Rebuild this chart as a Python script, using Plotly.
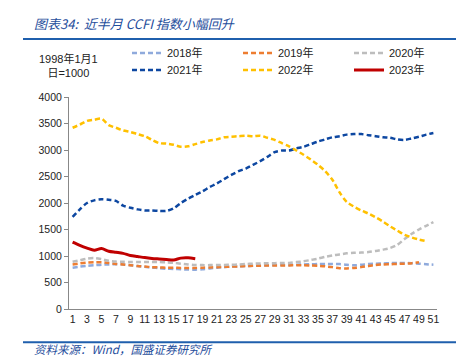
import plotly.graph_objects as go

weeks = list(range(1, 52))
tick_labels = [str(w) for w in range(1, 52, 2)]

y2018 = [780, 800, 815, 825, 835, 840, 845, 840, 825, 810, 795, 785, 770, 760, 755, 750, 745, 742,
         750, 765, 780, 790, 800, 805, 810, 815, 820, 825, 828, 830, 832, 835, 840, 845, 848, 850,
         850, 848, 835, 825, 835, 850, 855, 860, 865, 868, 868, 865, 855, 845, 836]
y2019 = [840, 860, 875, 880, 880, 870, 850, 840, 825, 810, 800, 790, 785, 780, 778, 775, 775, 775,
         780, 785, 790, 795, 800, 805, 810, 815, 818, 820, 822, 823, 823, 825, 825, 820, 815, 805,
         790, 770, 765, 775, 790, 810, 830, 840, 845, 850, 855, 865, 880]
y2020 = [890, 920, 950, 960, 940, 910, 895, 890, 888, 887, 887, 887, 885, 880, 870, 855, 840, 830,
         828, 828, 830, 832, 835, 840, 848, 855, 860, 862, 865, 868, 870, 885, 900, 925, 950, 985,
         1010, 1030, 1050, 1060, 1065, 1075, 1095, 1120, 1150, 1210, 1320, 1420, 1500, 1570, 1640]
y2021 = [1740, 1880, 2000, 2050, 2070, 2060, 2040, 1950, 1910, 1880, 1860, 1860, 1850, 1850, 1900,
         2000, 2080, 2150, 2220, 2300, 2370, 2450, 2530, 2600, 2650, 2720, 2790, 2870, 2960, 2990,
         2990, 3030, 3060, 3110, 3160, 3200, 3240, 3260, 3290, 3300, 3300, 3280, 3260, 3240, 3230,
         3200, 3190, 3220, 3250, 3290, 3320]
y2022 = [3420, 3480, 3550, 3570, 3590, 3470, 3420, 3370, 3340, 3300, 3260, 3190, 3130, 3120, 3100,
         3060, 3070, 3110, 3150, 3180, 3200, 3240, 3250, 3260, 3270, 3260, 3270, 3230, 3190, 3130,
         3070, 2990, 2910, 2820, 2720, 2600, 2440, 2200, 2020, 1930, 1860, 1800, 1730, 1650, 1560,
         1480, 1400, 1350, 1310, 1280]
y2023 = [1260, 1200, 1150, 1110, 1140, 1090, 1070, 1050, 1010, 990, 970, 955, 945, 935, 925, 960,
         965, 950]

series = [
    ("2018年", y2018, "#8FAADC", "5px,3px", 2.5),
    ("2019年", y2019, "#ED7D31", "5px,3px", 2.5),
    ("2020年", y2020, "#BDBDBD", "5px,3px", 2.5),
    ("2021年", y2021, "#0D47A1", "5px,3px", 2.5),
    ("2022年", y2022, "#FFC000", "5px,3px", 2.5),
    ("2023年", y2023, "#C00000", "solid", 3),
]

W, H = 464, 356
OFF = 8  # page body margin offset
L, R, T, B = 69 - OFF, 437 - OFF, 97 - OFF, 309 - OFF

fig = go.Figure()
# legend text start x and row center y (reference pixels)
leg_pos = [(167, 53), (278, 53), (389, 53), (167, 70), (278, 70), (389, 70)]
for i, (name, vals, col, dash, wd) in enumerate(series):
    lname = "legend" if i == 0 else f"legend{i+1}"
    fig.add_trace(go.Scatter(
        x=weeks[:len(vals)], y=vals, name=name, mode="lines",
        line=dict(color=col, width=wd, dash=dash, shape="spline", smoothing=0.8),
        legend=lname, showlegend=True,
    ))

legend_common = dict(font=dict(family="Liberation Sans, Noto Sans CJK SC", size=11, color="#222"),
                     bgcolor="rgba(0,0,0,0)", borderwidth=0, xref="container", yref="container",
                     xanchor="left", yanchor="middle", orientation="v")
layout_legends = {}
for i, (px, py) in enumerate(leg_pos):
    lname = "legend" if i == 0 else f"legend{i+1}"
    layout_legends[lname] = dict(legend_common, x=(px - 40 - OFF) / W, y=1 - (py - OFF) / H)

def px2paper_x(px):
    return (px - OFF - L) / (R - L)

def px2paper_y(py):
    return (B - (py - OFF)) / (B - T)

fig.update_layout(
    width=W, height=H,
    margin=dict(l=L, r=W - R, t=T, b=H - B, pad=0, autoexpand=False),
    paper_bgcolor="white", plot_bgcolor="white",
    font=dict(family="Liberation Sans, Noto Sans CJK SC", size=11, color="#222"),
    xaxis=dict(range=[0.5, 51.5], tickmode="array", tickvals=list(range(1, 52, 2)), ticktext=tick_labels,
               showline=True, linecolor="#888", linewidth=1, ticks="", showgrid=False,
               tickfont=dict(size=10.5), zeroline=False),
    yaxis=dict(range=[0, 4000], tickvals=[0, 500, 1000, 1500, 2000, 2500, 3000, 3500, 4000],
               showline=True, linecolor="#888", linewidth=1, ticks="outside", ticklen=4,
               tickcolor="#888", showgrid=False, zeroline=False, tickfont=dict(size=10.5)),
    showlegend=True,
    **layout_legends,
)

fig.add_annotation(text="<i>图表34:  近半月 CCFI 指数小幅回升</i>", xref="paper", yref="paper",
                   x=px2paper_x(32), y=px2paper_y(23), xanchor="left", yanchor="middle",
                   showarrow=False, font=dict(family="Noto Sans CJK SC", size=13, color="#1F4E9C"))
fig.add_annotation(text="<i>资料来源：Wind，国盛证券研究所</i>", xref="paper", yref="paper",
                   x=px2paper_x(32), y=px2paper_y(349), xanchor="left", yanchor="middle",
                   showarrow=False, font=dict(family="Noto Sans CJK SC", size=11.5, color="#1F4E9C"))
fig.add_annotation(text="1998年1月1<br>日=1000", xref="paper", yref="paper",
                   x=px2paper_x(68), y=px2paper_y(65), xanchor="center", yanchor="middle",
                   showarrow=False, align="center",
                   font=dict(family="Liberation Sans, Noto Sans CJK SC", size=11, color="#222"))
for yy in (39, 342.3):
    fig.add_shape(type="line", xref="paper", yref="paper", x0=px2paper_x(23), x1=px2paper_x(456),
                  y0=px2paper_y(yy), y1=px2paper_y(yy), line=dict(color="#1F5FAD", width=2))

fig.write_html("out.html")
